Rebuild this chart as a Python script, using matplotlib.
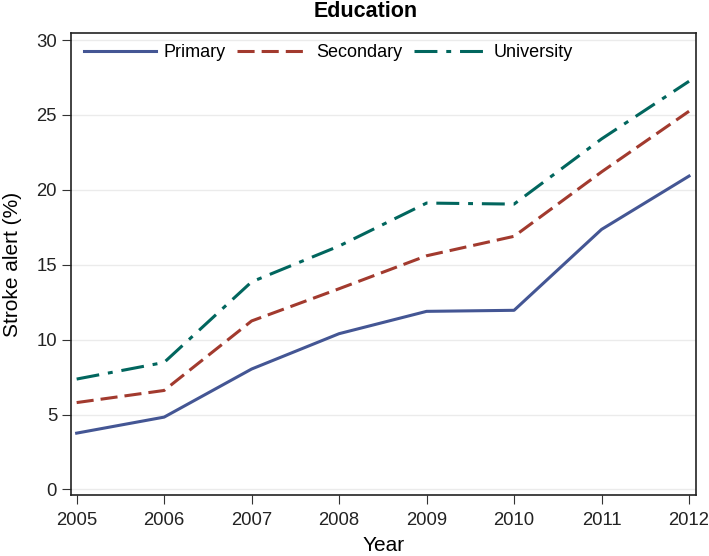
import matplotlib.pyplot as plt

plt.rcParams['font.family'] = ['Liberation Sans', 'DejaVu Sans']

years = [2005, 2006, 2007, 2008, 2009, 2010, 2011, 2012]
primary = [3.76, 4.83, 8.04, 10.4, 11.89, 11.96, 17.36, 20.92]
secondary = [5.8, 6.61, 11.25, 13.4, 15.6, 16.9, 21.2, 25.25]
university = [7.37, 8.48, 13.86, 16.25, 19.12, 19.05, 23.4, 27.25]

fig = plt.figure(figsize=(7.09, 5.56), dpi=100)
ax = fig.add_axes([0.1001, 0.1097, 0.8816, 0.8309])

ax.plot(years, primary, color='#445694', lw=2.2, label='Primary')
ax.plot(years, secondary, color='#A23A2E', lw=2.2, dashes=(5.6, 2.3), label='Secondary')
ax.plot(years, university, color='#01665E', lw=2.2, dashes=(7.5, 2.9, 1.6, 2.9), label='University')

ax.set_xlim(2004.935, 2012.08)
ax.set_ylim(-0.37, 30.47)
ax.set_xticks(years)
ax.set_yticks([0, 5, 10, 15, 20, 25, 30])
ax.grid(axis='y', color='#ebebeb', lw=1)
ax.set_axisbelow(True)
ax.tick_params(labelsize=13.3, length=6.5, color='#333333', labelcolor='#222222')
ax.tick_params(axis='x', pad=5.5)
for s in ax.spines.values():
    s.set_color('#222222')
    s.set_linewidth(1.2)

ax.set_xlabel('Year', fontsize=15, labelpad=5)
ax.set_ylabel('Stroke alert (%)', fontsize=15, labelpad=10)
# title sits a little left of the axes centre in the original
fig.text(366 / 709, 1 - 16.7 / 556, 'Education', fontsize=15.5, fontweight='bold',
         ha='center', va='baseline')

ax.legend(loc='upper left', ncol=3, frameon=False, handlelength=4.0, fontsize=13,
          columnspacing=0.65, handletextpad=0.4, borderaxespad=0.2, bbox_to_anchor=(0.003, 1.0))

fig.savefig('out.png', dpi=100)
